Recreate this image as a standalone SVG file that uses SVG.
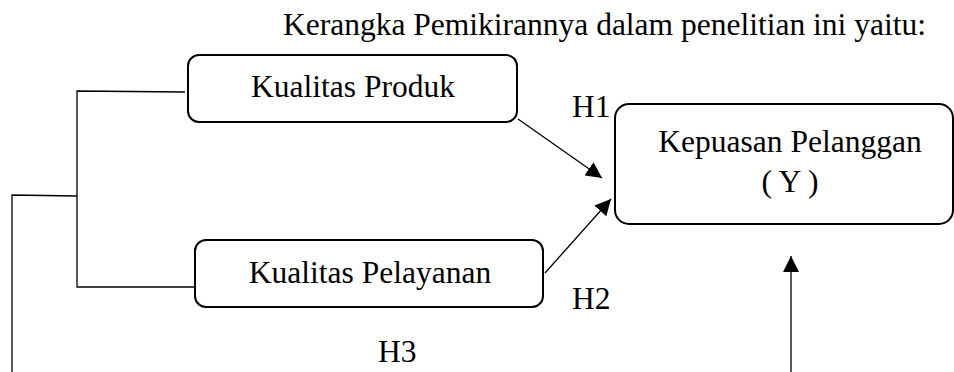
<svg xmlns="http://www.w3.org/2000/svg" width="954" height="372" viewBox="0 0 954 372">
<style>
  text { font-family: "Liberation Serif", "Times New Roman", serif; font-size: 31.5px; fill: #000; }
  .box { fill: #fff; stroke: #000; stroke-width: 2; }
  .ln { fill: none; stroke: #000; stroke-width: 1.3; }
</style>
<defs>
  <marker id="ah" viewBox="0 0 16 16" refX="16" refY="8" markerWidth="16" markerHeight="16" markerUnits="userSpaceOnUse" orient="auto">
    <path d="M0,0 L16,8 L0,16 Z" fill="#000"/>
  </marker>
</defs>
<rect width="954" height="372" fill="#fff"/>
<text id="title" x="283" y="35">Kerangka Pemikirannya dalam penelitian ini yaitu:</text>
<g id="connectors">
  <polyline class="ln" points="185,92 77,91 77,287 195,287"/>
  <polyline class="ln" points="77,196 12,195 12,372"/>
  <line class="ln" x1="518" y1="119" x2="602" y2="178" marker-end="url(#ah)"/>
  <line class="ln" x1="545" y1="273" x2="611" y2="199" marker-end="url(#ah)"/>
  <line class="ln" x1="791" y1="372" x2="791" y2="256" marker-end="url(#ah)"/>
  <text x="572" y="117">H1</text>
  <text x="572" y="309">H2</text>
  <text x="378" y="362">H3</text>
</g>
<g id="kualitas-produk">
  <rect class="box" x="188" y="55" width="329" height="67" rx="11"/>
  <text x="353" y="97" text-anchor="middle">Kualitas Produk</text>
</g>
<g id="kualitas-pelayanan">
  <rect class="box" x="195" y="240" width="348" height="67" rx="11"/>
  <text x="370" y="283" text-anchor="middle">Kualitas Pelayanan</text>
</g>
<g id="kepuasan-pelanggan">
  <rect class="box" x="615" y="104" width="338" height="120" rx="14"/>
  <text x="790" y="152" text-anchor="middle">Kepuasan Pelanggan</text>
  <text x="790" y="192" text-anchor="middle">( Y )</text>
</g>
</svg>
